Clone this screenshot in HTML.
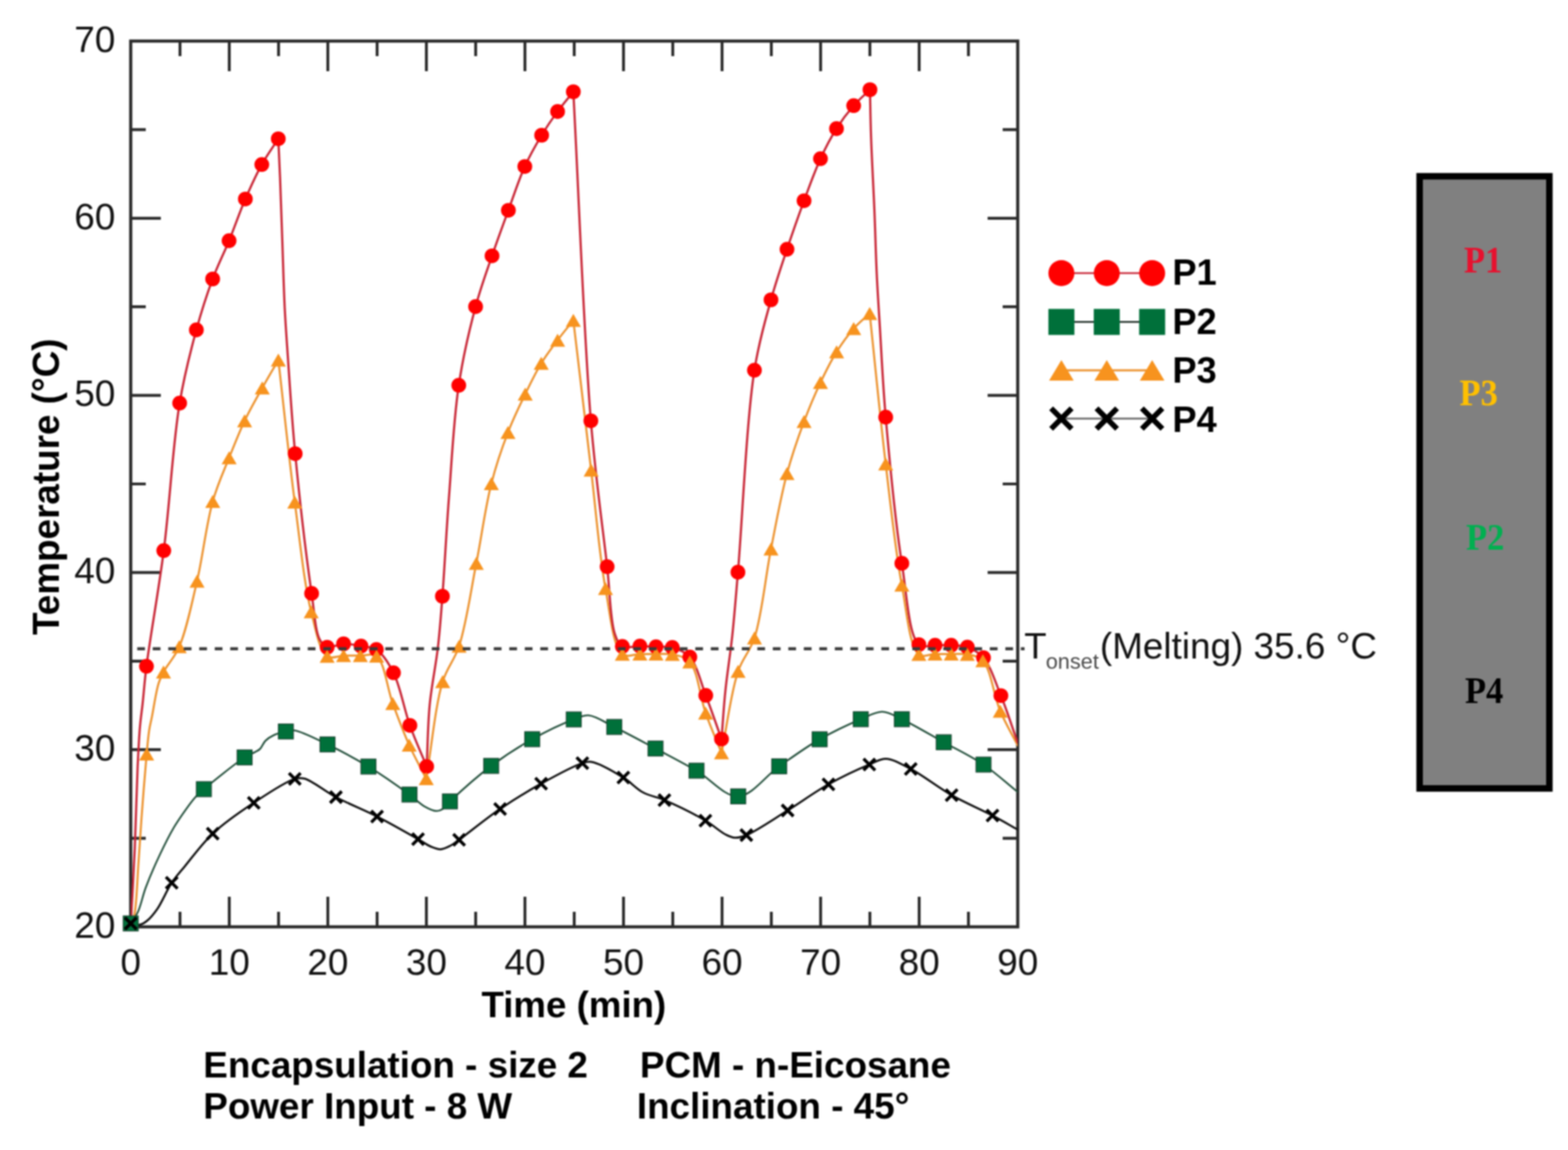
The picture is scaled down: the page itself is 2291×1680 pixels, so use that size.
<!DOCTYPE html>
<html><head><meta charset="utf-8"><title>Temperature vs Time</title>
<style>html,body{margin:0;padding:0;background:#fff;}body{width:2291px;height:1680px;overflow:hidden;}</style>
</head><body>
<div style="width:2291px;height:1680px;filter:blur(1px)">
<svg width="2291" height="1680" viewBox="0 0 2291 1680" style="display:block">
<rect width="2291" height="1680" fill="#ffffff"/>
<rect x="191.0" y="60.0" width="1296.0" height="1294.0" fill="none" stroke="#2a2a2a" stroke-width="4.6"/>
<path d="M263,1354.0 V1332 M263,60.0 V82 M335,1354.0 V1310 M335,60.0 V104 M407,1354.0 V1332 M407,60.0 V82 M479,1354.0 V1310 M479,60.0 V104 M551,1354.0 V1332 M551,60.0 V82 M623,1354.0 V1310 M623,60.0 V104 M695,1354.0 V1332 M695,60.0 V82 M767,1354.0 V1310 M767,60.0 V104 M839,1354.0 V1332 M839,60.0 V82 M911,1354.0 V1310 M911,60.0 V104 M983,1354.0 V1332 M983,60.0 V82 M1055,1354.0 V1310 M1055,60.0 V104 M1127,1354.0 V1332 M1127,60.0 V82 M1199,1354.0 V1310 M1199,60.0 V104 M1271,1354.0 V1332 M1271,60.0 V82 M1343,1354.0 V1310 M1343,60.0 V104 M1415,1354.0 V1332 M1415,60.0 V82 M191.0,1224.6 H213 M1487.0,1224.6 H1465 M191.0,1095.2 H235 M1487.0,1095.2 H1443 M191.0,965.8 H213 M1487.0,965.8 H1465 M191.0,836.4 H235 M1487.0,836.4 H1443 M191.0,707 H213 M1487.0,707 H1465 M191.0,577.6 H235 M1487.0,577.6 H1443 M191.0,448.2 H213 M1487.0,448.2 H1465 M191.0,318.8 H235 M1487.0,318.8 H1443 M191.0,189.4 H213 M1487.0,189.4 H1465" stroke="#2a2a2a" stroke-width="4.2" fill="none"/>
<defs><clipPath id="pc"><rect x="191.0" y="60.0" width="1296.0" height="1294.0"/></clipPath></defs>
<g clip-path="url(#pc)">
<path d="M191,1349 C195.3,1349.7 200,1351.7 204,1351 C207.9,1350.3 211.3,1348 215,1345 C220,1341 225,1334.8 230,1327.6 C236.9,1317.7 243.6,1300.6 250.9,1289.7 C257,1280.5 262.3,1275 269.9,1265.7 C280.9,1252.4 294.9,1232.7 310.8,1217.8 C328.1,1201.5 350.4,1186.3 370.8,1172.8 C390.4,1159.8 417.2,1141.7 430.7,1137.9 C436.8,1136.2 439.2,1136 445,1137.5 C456.3,1140.4 474.3,1155.8 490.8,1164.5 C509.3,1174.3 531,1182.7 550.9,1192.8 C571,1203.1 596.4,1217.6 610.8,1225.8 C619,1230.5 624,1234.5 630,1237 C634.8,1239 639.2,1240.9 643.8,1240.7 C648.5,1240.5 653.5,1237.8 658,1235.5 C662.5,1233.2 665,1230.9 670.8,1226.8 C683.5,1217.7 710.4,1195.6 730.7,1181.8 C750.4,1168.4 770.3,1156.1 790.6,1144.9 C810.4,1133.9 837.9,1119 850.9,1114.9 C856.6,1113.1 858.4,1112.1 863.9,1112.9 C874.9,1114.6 897.4,1127.6 910.8,1135.9 C922,1142.8 929.5,1152.3 939.8,1157.8 C949.6,1163.1 959,1163.8 970.8,1168.8 C987.7,1176 1014.5,1189.2 1030.7,1198.8 C1042.5,1205.8 1051.8,1214.8 1060,1219 C1065.2,1221.6 1068.8,1223.5 1073.6,1223.8 C1078.9,1224.1 1083.4,1222.8 1090.5,1220 C1104.7,1214.3 1130.8,1196.3 1150.8,1184 C1170.8,1171.6 1190.3,1157.1 1210.5,1145.8 C1230.1,1134.8 1254.6,1123.4 1270.2,1116.9 C1279.9,1112.9 1285.6,1108.3 1294.4,1108.5 C1305.3,1108.8 1317.4,1116.5 1330.7,1123.4 C1348.5,1132.7 1370.2,1150.1 1390.4,1161.6 C1410,1172.7 1432.7,1182.2 1450.1,1191.4 C1464,1198.7 1474.7,1205.1 1487,1212" fill="none" stroke="#111111" stroke-width="3.0" stroke-linejoin="round" stroke-linecap="round"/>
<path d="M191,1349 C194.6,1343.3 198.5,1338.8 201.7,1331.8 C206,1322.4 208.2,1309.5 212.8,1297 C218.4,1282 226.4,1263.7 233.7,1248.3 C240.4,1234.1 247.7,1219.6 254.6,1207.9 C260.2,1198.4 265.9,1190.5 271.3,1182.9 C276,1176.3 280.5,1170 285.2,1164.8 C289.3,1160.2 291.9,1158 297.9,1152.9 C310.3,1142.3 344,1115.1 357.4,1106.5 C363.7,1102.5 367.9,1101.3 372,1099 C375.1,1097.2 377.6,1096.4 380,1094 C383,1091.1 384.7,1085.3 388,1082 C391.3,1078.7 395.4,1076.2 400,1074 C405.2,1071.6 412.3,1069.8 417.7,1068.6 C422.1,1067.6 424.7,1066.3 430,1067 C441,1068.5 461.7,1079.4 478.5,1087.5 C497.6,1096.7 518.7,1107.9 538.3,1119.9 C558.6,1132.3 583.5,1149.9 598.3,1160.8 C607.4,1167.5 612.6,1173.7 619.8,1177.8 C625.8,1181.2 632.8,1184.7 637.8,1184.8 C641.3,1184.9 643.9,1183.6 646.8,1181.8 C650.5,1179.5 652.3,1175.7 657.4,1170.8 C669.1,1159.7 697.1,1134.4 717.7,1118.9 C737.2,1104.2 757.2,1091.3 777.6,1079.9 C797.4,1068.8 823,1056.7 838.3,1051 C847.1,1047.7 851.8,1044.4 859.9,1045 C870.8,1045.8 883.6,1055.2 897.5,1062 C915.3,1070.7 937.8,1082.9 957.8,1093.5 C977.8,1104.2 997.8,1114.4 1017.7,1125.9 C1038.1,1137.7 1058.6,1164.2 1078.6,1163.4 C1098.9,1162.6 1118.4,1133.5 1138.5,1119.5 C1158.1,1105.8 1177.4,1091.6 1197.6,1080 C1217.2,1068.8 1240.7,1057.8 1257.7,1050.7 C1269.7,1045.7 1278.8,1039.7 1289,1039.8 C1298.8,1039.9 1306.6,1045.6 1317.7,1050.7 C1334.5,1058.5 1358.8,1073.1 1378.9,1084.3 C1398.5,1095.2 1418.8,1104.7 1437,1117 C1454.8,1129 1470.3,1143.7 1487,1157" fill="none" stroke="#24503c" stroke-width="2.6" stroke-linejoin="round" stroke-linecap="round"/>
<path d="M191,1349 C192.7,1345.3 194.6,1343.5 196,1338 C199.6,1324.1 200.5,1285.6 202.3,1261 C204,1238.4 204.9,1219.7 206.7,1196 C208.8,1167.4 212.1,1125.2 214.3,1101.4 C215.6,1086.9 216.5,1076.4 218,1066.5 C219.2,1059 220.4,1055 222,1047 C224.5,1034.5 227.9,1010.6 231.6,998.7 C233.9,991.4 235.5,988.3 238.9,981.7 C244.2,971.6 255,960.6 261.9,944.8 C272.3,920.9 280,882.6 287.9,848.9 C296.5,812.1 301.5,765.3 310.8,732.6 C317.8,707.8 326.7,689 334.8,668.7 C342.3,649.9 349.2,632.1 357.4,614.8 C365.3,598.1 374.7,582.1 383.2,566.8 C391.1,552.6 398.9,539.5 406.7,525.9 C414.7,595.1 422.1,668.9 430.7,733.6 C438.3,790.5 444.3,852.6 454.7,893.8 C461.5,920.7 466.6,951.1 478,958.8 C484.7,963.3 494,958 502,957.8 C510.1,957.6 518.4,957.7 526.5,957.8 C534.5,957.9 543.5,953.6 550.2,958.5 C561.9,967.1 565.7,1005.6 573.9,1027.8 C581.6,1048.8 589.4,1069.5 597.9,1088.5 C605.7,1105.9 614.5,1121.2 622.8,1137.6 C630.8,1090.3 635.9,1030.9 646.8,995.8 C653.7,973.7 663.7,965.3 670.8,943.9 C681.2,912.4 688,862.9 695.9,822.9 C703.7,783.8 709.1,740.9 717.9,706.6 C725,678.6 733.3,654.6 742.2,631.7 C750,611.5 758.9,593.3 767.4,575.8 C775.1,559.9 782.5,544.5 790.8,530.8 C798.3,518.4 806.7,507.7 814.7,496.9 C822.3,486.7 830,477.6 837.7,467.9 C846.4,540.8 855.5,618 863.7,686.7 C871,747.8 875.5,810.8 884.7,859.8 C891.6,896.7 895.4,945 909.3,955.7 C916.4,961.2 926.6,955.5 935,955.5 C943,955.5 950.6,955.4 958.5,955.5 C966.4,955.6 974.4,954.3 982.3,956 C990.9,957.9 1000.8,959.1 1007.9,967 C1019.7,980.2 1022.8,1018.5 1031,1041.7 C1038.3,1062.4 1046.5,1080.4 1054.2,1099.7 C1062.3,1060.1 1068,1011.3 1078.4,980.8 C1085.4,960.4 1095.5,952.7 1102.4,931.9 C1113.1,899.5 1118.3,843.4 1126.5,801.9 C1134.1,763.6 1141,724.8 1149.9,691.7 C1157.4,663.8 1166.1,639 1174.8,615.7 C1182.5,595.2 1190.4,576.5 1198.8,558.8 C1206.4,542.8 1213.9,527.5 1222.4,513.9 C1230.2,501.5 1238.7,489.7 1247.3,479.9 C1254.8,471.4 1262.9,465.2 1270.7,457.9 C1278.5,531.2 1285.8,608.4 1294.1,677.7 C1301.6,740 1308.1,804.2 1317.7,854.8 C1325,893.4 1328.7,945.4 1342.6,956 C1349.2,961.1 1358.3,955.6 1366.2,955.5 C1374.1,955.4 1381.9,955.4 1389.8,955.5 C1397.7,955.6 1405.8,954.4 1413.4,956 C1421.2,957.6 1429.5,958.4 1436.1,965.3 C1447.8,977.7 1452.2,1017 1461.5,1038.9 C1469.4,1057.5 1478.5,1072.3 1487,1089" fill="none" stroke="#ec922e" stroke-width="3.0" stroke-linejoin="round" stroke-linecap="round"/>
<path d="M191,1349 C191.9,1334.3 192.7,1321.1 193.6,1305 C194.7,1285.4 195.8,1265 196.9,1240 C198.4,1206.1 199.6,1152.9 201.1,1120 C202.2,1097.1 203,1078.4 204.5,1061.6 C205.6,1048.8 207,1040.4 208.4,1027.8 C210.1,1011.8 211.1,996.4 214,973.3 C219.2,932.4 231.6,864.1 239.3,804.3 C248,736.9 252.6,647.9 262.5,588.8 C269.5,546.7 278.1,514.1 286.9,481.9 C294.3,454.7 302.2,430.3 310.7,407.5 C318.2,387.3 326.9,370.7 334.7,351.6 C342.8,331.8 350.2,309.9 358.5,290.7 C366.2,273 374,255.6 382.5,240.3 C390.1,226.6 398.6,215.2 406.6,202.7 C407.5,221.8 408.3,238.8 409.2,260 C410.3,286.6 411.3,319.2 412.4,350 C413.6,382.5 414.5,419.6 416,450 C417.3,475.4 418.6,492.6 420.5,520 C423.2,559.2 426.3,610.9 431.3,662.7 C437.3,724.7 448.1,817.4 455.3,866.9 C459.5,895.4 460.6,921.4 467,934 C470.1,940.1 473.1,944 478,945.5 C484.1,947.4 493.9,940.8 502,940.5 C510.3,940.2 519.3,942.4 527.5,943.9 C535.2,945.3 543,944.4 549.9,948.9 C559.3,955 567.6,968.5 574.9,982.8 C584.9,1002.6 590.3,1035.8 598.9,1059.7 C606.6,1081.1 615.2,1099.7 623.4,1119.7 C624.9,1089.7 625,1059.2 627.8,1029.8 C630.5,1001.3 636.7,973.1 639.8,945.9 C642.8,920.3 644.2,900 646.4,871 C649.5,830.9 652.1,777 655.9,727.6 C660,674.6 662.8,612.6 670.3,562.8 C676.6,520.8 685.8,481.8 694.9,447.9 C702.3,420.3 710.7,397.7 718.9,373.7 C726.7,350.9 734.7,329.1 742.8,307.2 C750.7,285.6 758,262.5 766.8,243.2 C774.4,226.4 783,211.5 791.4,197.5 C799,185 806.7,173.8 814.7,162.9 C822.2,152.7 830,143.6 837.7,134 C846.2,294.2 852.8,486.7 863.3,614.7 C870.3,700.1 880.7,770.5 887.1,827.8 C891.4,866.5 891.5,905.4 898,925 C901.1,934.4 903.5,941 909.3,944.3 C915.5,947.8 926.6,943.8 935,943.9 C943,944 950.6,944.6 958.5,944.9 C966.4,945.2 974.5,943.7 982.3,945.9 C991,948.3 1000.7,951.8 1007.9,959.8 C1018.4,971.4 1023.7,996.4 1031.2,1015.8 C1039.2,1036.3 1046.5,1058.4 1054.2,1079.7 C1056.1,1056.4 1057.3,1033.9 1059.8,1009.8 C1062.4,984 1066.8,957.6 1069.8,929.9 C1073,899.9 1074.8,876 1078.2,835.9 C1084.3,764.9 1090.8,613.5 1102.3,540.8 C1109.1,497.4 1117.9,469.3 1126.5,438 C1133.9,411.2 1141.8,388.4 1149.9,364.1 C1157.9,340.2 1166.4,315.9 1174.8,293.2 C1182.7,271.9 1190.3,250.3 1198.8,231.8 C1206.2,215.7 1213.7,201.3 1222.2,187.9 C1230,175.6 1238.7,164.2 1247.3,154.3 C1255,145.5 1263.2,138.8 1271.1,131 C1271.6,154 1271.8,174.3 1272.7,200 C1273.8,232.4 1276.3,275.2 1277.7,310 C1279,341.5 1279.6,370.9 1281,400 C1282.3,427.5 1283.9,450.1 1285.7,480 C1288,518 1289.9,560.9 1294.1,609.4 C1299.6,671.8 1308,762.3 1317.7,822.9 C1325,868.5 1327.7,929.1 1342.6,941.7 C1349.2,947.3 1358.3,942.5 1366.2,942.6 C1374.1,942.7 1381.9,942.1 1389.8,942.6 C1397.7,943.1 1405.8,942.7 1413.4,945.4 C1421.6,948.4 1430,952.7 1437,960.8 C1447.3,972.8 1454.4,996.6 1462.4,1016.2 C1471.2,1037.7 1478.8,1062.1 1487,1085" fill="none" stroke="#c82535" stroke-width="3.2" stroke-linejoin="round" stroke-linecap="round"/>
</g>
<g>
<circle cx="191" cy="1349" r="10.8" fill="#ff0000"/>
<circle cx="214" cy="973.3" r="10.8" fill="#ff0000"/>
<circle cx="239.3" cy="804.3" r="10.8" fill="#ff0000"/>
<circle cx="262.5" cy="588.8" r="10.8" fill="#ff0000"/>
<circle cx="286.9" cy="481.9" r="10.8" fill="#ff0000"/>
<circle cx="310.7" cy="407.5" r="10.8" fill="#ff0000"/>
<circle cx="334.7" cy="351.6" r="10.8" fill="#ff0000"/>
<circle cx="358.5" cy="290.7" r="10.8" fill="#ff0000"/>
<circle cx="382.5" cy="240.3" r="10.8" fill="#ff0000"/>
<circle cx="406.6" cy="202.7" r="10.8" fill="#ff0000"/>
<circle cx="431.3" cy="662.7" r="10.8" fill="#ff0000"/>
<circle cx="455.3" cy="866.9" r="10.8" fill="#ff0000"/>
<circle cx="478" cy="945.5" r="10.8" fill="#ff0000"/>
<circle cx="502" cy="940.5" r="10.8" fill="#ff0000"/>
<circle cx="527.5" cy="943.9" r="10.8" fill="#ff0000"/>
<circle cx="549.9" cy="948.9" r="10.8" fill="#ff0000"/>
<circle cx="574.9" cy="982.8" r="10.8" fill="#ff0000"/>
<circle cx="598.9" cy="1059.7" r="10.8" fill="#ff0000"/>
<circle cx="623.4" cy="1119.7" r="10.8" fill="#ff0000"/>
<circle cx="646.4" cy="871" r="10.8" fill="#ff0000"/>
<circle cx="670.3" cy="562.8" r="10.8" fill="#ff0000"/>
<circle cx="694.9" cy="447.9" r="10.8" fill="#ff0000"/>
<circle cx="718.9" cy="373.7" r="10.8" fill="#ff0000"/>
<circle cx="742.8" cy="307.2" r="10.8" fill="#ff0000"/>
<circle cx="766.8" cy="243.2" r="10.8" fill="#ff0000"/>
<circle cx="791.4" cy="197.5" r="10.8" fill="#ff0000"/>
<circle cx="814.7" cy="162.9" r="10.8" fill="#ff0000"/>
<circle cx="837.7" cy="134" r="10.8" fill="#ff0000"/>
<circle cx="863.3" cy="614.7" r="10.8" fill="#ff0000"/>
<circle cx="887.1" cy="827.8" r="10.8" fill="#ff0000"/>
<circle cx="909.3" cy="944.3" r="10.8" fill="#ff0000"/>
<circle cx="935" cy="943.9" r="10.8" fill="#ff0000"/>
<circle cx="958.5" cy="944.9" r="10.8" fill="#ff0000"/>
<circle cx="982.3" cy="945.9" r="10.8" fill="#ff0000"/>
<circle cx="1007.9" cy="959.8" r="10.8" fill="#ff0000"/>
<circle cx="1031.2" cy="1015.8" r="10.8" fill="#ff0000"/>
<circle cx="1054.2" cy="1079.7" r="10.8" fill="#ff0000"/>
<circle cx="1078.2" cy="835.9" r="10.8" fill="#ff0000"/>
<circle cx="1102.3" cy="540.8" r="10.8" fill="#ff0000"/>
<circle cx="1126.5" cy="438" r="10.8" fill="#ff0000"/>
<circle cx="1149.9" cy="364.1" r="10.8" fill="#ff0000"/>
<circle cx="1174.8" cy="293.2" r="10.8" fill="#ff0000"/>
<circle cx="1198.8" cy="231.8" r="10.8" fill="#ff0000"/>
<circle cx="1222.2" cy="187.9" r="10.8" fill="#ff0000"/>
<circle cx="1247.3" cy="154.3" r="10.8" fill="#ff0000"/>
<circle cx="1271.1" cy="131" r="10.8" fill="#ff0000"/>
<circle cx="1294.1" cy="609.4" r="10.8" fill="#ff0000"/>
<circle cx="1317.7" cy="822.9" r="10.8" fill="#ff0000"/>
<circle cx="1342.6" cy="941.7" r="10.8" fill="#ff0000"/>
<circle cx="1366.2" cy="942.6" r="10.8" fill="#ff0000"/>
<circle cx="1389.8" cy="942.6" r="10.8" fill="#ff0000"/>
<circle cx="1413.4" cy="945.4" r="10.8" fill="#ff0000"/>
<circle cx="1437" cy="960.8" r="10.8" fill="#ff0000"/>
<circle cx="1462.4" cy="1016.2" r="10.8" fill="#ff0000"/>
<path d="M191,1339.5 L202,1358.5 L180,1358.5 Z" fill="#f7931e"/>
<path d="M214.3,1091.9 L225.3,1110.9 L203.3,1110.9 Z" fill="#f7931e"/>
<path d="M238.9,972.2 L249.9,991.2 L227.9,991.2 Z" fill="#f7931e"/>
<path d="M261.9,935.3 L272.9,954.3 L250.9,954.3 Z" fill="#f7931e"/>
<path d="M287.9,839.4 L298.9,858.4 L276.9,858.4 Z" fill="#f7931e"/>
<path d="M310.8,723.1 L321.8,742.1 L299.8,742.1 Z" fill="#f7931e"/>
<path d="M334.8,659.2 L345.8,678.2 L323.8,678.2 Z" fill="#f7931e"/>
<path d="M357.4,605.3 L368.4,624.3 L346.4,624.3 Z" fill="#f7931e"/>
<path d="M383.2,557.3 L394.2,576.3 L372.2,576.3 Z" fill="#f7931e"/>
<path d="M406.7,516.4 L417.7,535.4 L395.7,535.4 Z" fill="#f7931e"/>
<path d="M430.7,724.1 L441.7,743.1 L419.7,743.1 Z" fill="#f7931e"/>
<path d="M454.7,884.3 L465.7,903.3 L443.7,903.3 Z" fill="#f7931e"/>
<path d="M478,949.3 L489,968.3 L467,968.3 Z" fill="#f7931e"/>
<path d="M502,948.3 L513,967.3 L491,967.3 Z" fill="#f7931e"/>
<path d="M526.5,948.3 L537.5,967.3 L515.5,967.3 Z" fill="#f7931e"/>
<path d="M550.2,949 L561.2,968 L539.2,968 Z" fill="#f7931e"/>
<path d="M573.9,1018.3 L584.9,1037.3 L562.9,1037.3 Z" fill="#f7931e"/>
<path d="M597.9,1079 L608.9,1098 L586.9,1098 Z" fill="#f7931e"/>
<path d="M622.8,1128.1 L633.8,1147.1 L611.8,1147.1 Z" fill="#f7931e"/>
<path d="M646.8,986.3 L657.8,1005.3 L635.8,1005.3 Z" fill="#f7931e"/>
<path d="M670.8,934.4 L681.8,953.4 L659.8,953.4 Z" fill="#f7931e"/>
<path d="M695.9,813.4 L706.9,832.4 L684.9,832.4 Z" fill="#f7931e"/>
<path d="M717.9,697.1 L728.9,716.1 L706.9,716.1 Z" fill="#f7931e"/>
<path d="M742.2,622.2 L753.2,641.2 L731.2,641.2 Z" fill="#f7931e"/>
<path d="M767.4,566.3 L778.4,585.3 L756.4,585.3 Z" fill="#f7931e"/>
<path d="M790.8,521.3 L801.8,540.3 L779.8,540.3 Z" fill="#f7931e"/>
<path d="M814.7,487.4 L825.7,506.4 L803.7,506.4 Z" fill="#f7931e"/>
<path d="M837.7,458.4 L848.7,477.4 L826.7,477.4 Z" fill="#f7931e"/>
<path d="M863.7,677.2 L874.7,696.2 L852.7,696.2 Z" fill="#f7931e"/>
<path d="M884.7,850.3 L895.7,869.3 L873.7,869.3 Z" fill="#f7931e"/>
<path d="M909.3,946.2 L920.3,965.2 L898.3,965.2 Z" fill="#f7931e"/>
<path d="M935,946 L946,965 L924,965 Z" fill="#f7931e"/>
<path d="M958.5,946 L969.5,965 L947.5,965 Z" fill="#f7931e"/>
<path d="M982.3,946.5 L993.3,965.5 L971.3,965.5 Z" fill="#f7931e"/>
<path d="M1007.9,957.5 L1018.9,976.5 L996.9,976.5 Z" fill="#f7931e"/>
<path d="M1031,1032.2 L1042,1051.2 L1020,1051.2 Z" fill="#f7931e"/>
<path d="M1054.2,1090.2 L1065.2,1109.2 L1043.2,1109.2 Z" fill="#f7931e"/>
<path d="M1078.4,971.3 L1089.4,990.3 L1067.4,990.3 Z" fill="#f7931e"/>
<path d="M1102.4,922.4 L1113.4,941.4 L1091.4,941.4 Z" fill="#f7931e"/>
<path d="M1126.5,792.4 L1137.5,811.4 L1115.5,811.4 Z" fill="#f7931e"/>
<path d="M1149.9,682.2 L1160.9,701.2 L1138.9,701.2 Z" fill="#f7931e"/>
<path d="M1174.8,606.2 L1185.8,625.2 L1163.8,625.2 Z" fill="#f7931e"/>
<path d="M1198.8,549.3 L1209.8,568.3 L1187.8,568.3 Z" fill="#f7931e"/>
<path d="M1222.4,504.4 L1233.4,523.4 L1211.4,523.4 Z" fill="#f7931e"/>
<path d="M1247.3,470.4 L1258.3,489.4 L1236.3,489.4 Z" fill="#f7931e"/>
<path d="M1270.7,448.4 L1281.7,467.4 L1259.7,467.4 Z" fill="#f7931e"/>
<path d="M1294.1,668.2 L1305.1,687.2 L1283.1,687.2 Z" fill="#f7931e"/>
<path d="M1317.7,845.3 L1328.7,864.3 L1306.7,864.3 Z" fill="#f7931e"/>
<path d="M1342.6,946.5 L1353.6,965.5 L1331.6,965.5 Z" fill="#f7931e"/>
<path d="M1366.2,946 L1377.2,965 L1355.2,965 Z" fill="#f7931e"/>
<path d="M1389.8,946 L1400.8,965 L1378.8,965 Z" fill="#f7931e"/>
<path d="M1413.4,946.5 L1424.4,965.5 L1402.4,965.5 Z" fill="#f7931e"/>
<path d="M1436.1,955.8 L1447.1,974.8 L1425.1,974.8 Z" fill="#f7931e"/>
<path d="M1461.5,1029.4 L1472.5,1048.4 L1450.5,1048.4 Z" fill="#f7931e"/>
<rect x="180" y="1338" width="22" height="22" fill="#00703a" stroke="#1d4030" stroke-width="1.2"/>
<rect x="286.9" y="1141.9" width="22" height="22" fill="#00703a" stroke="#1d4030" stroke-width="1.2"/>
<rect x="346.4" y="1095.5" width="22" height="22" fill="#00703a" stroke="#1d4030" stroke-width="1.2"/>
<rect x="406.7" y="1057.6" width="22" height="22" fill="#00703a" stroke="#1d4030" stroke-width="1.2"/>
<rect x="467.5" y="1076.5" width="22" height="22" fill="#00703a" stroke="#1d4030" stroke-width="1.2"/>
<rect x="527.3" y="1108.9" width="22" height="22" fill="#00703a" stroke="#1d4030" stroke-width="1.2"/>
<rect x="587.3" y="1149.8" width="22" height="22" fill="#00703a" stroke="#1d4030" stroke-width="1.2"/>
<rect x="646.4" y="1159.8" width="22" height="22" fill="#00703a" stroke="#1d4030" stroke-width="1.2"/>
<rect x="706.7" y="1107.9" width="22" height="22" fill="#00703a" stroke="#1d4030" stroke-width="1.2"/>
<rect x="766.6" y="1068.9" width="22" height="22" fill="#00703a" stroke="#1d4030" stroke-width="1.2"/>
<rect x="827.3" y="1040" width="22" height="22" fill="#00703a" stroke="#1d4030" stroke-width="1.2"/>
<rect x="886.5" y="1051" width="22" height="22" fill="#00703a" stroke="#1d4030" stroke-width="1.2"/>
<rect x="946.8" y="1082.5" width="22" height="22" fill="#00703a" stroke="#1d4030" stroke-width="1.2"/>
<rect x="1006.7" y="1114.9" width="22" height="22" fill="#00703a" stroke="#1d4030" stroke-width="1.2"/>
<rect x="1067.6" y="1152.4" width="22" height="22" fill="#00703a" stroke="#1d4030" stroke-width="1.2"/>
<rect x="1127.5" y="1108.5" width="22" height="22" fill="#00703a" stroke="#1d4030" stroke-width="1.2"/>
<rect x="1186.6" y="1069" width="22" height="22" fill="#00703a" stroke="#1d4030" stroke-width="1.2"/>
<rect x="1246.7" y="1039.7" width="22" height="22" fill="#00703a" stroke="#1d4030" stroke-width="1.2"/>
<rect x="1306.7" y="1039.7" width="22" height="22" fill="#00703a" stroke="#1d4030" stroke-width="1.2"/>
<rect x="1367.9" y="1073.3" width="22" height="22" fill="#00703a" stroke="#1d4030" stroke-width="1.2"/>
<rect x="1426" y="1106" width="22" height="22" fill="#00703a" stroke="#1d4030" stroke-width="1.2"/>
<path d="M182.5,1340.5 L199.5,1357.5 M199.5,1340.5 L182.5,1357.5" stroke="#000000" stroke-width="4.6" stroke-linecap="butt" fill="none"/>
<path d="M242.4,1281.2 L259.4,1298.2 M259.4,1281.2 L242.4,1298.2" stroke="#000000" stroke-width="4.6" stroke-linecap="butt" fill="none"/>
<path d="M302.3,1209.3 L319.3,1226.3 M319.3,1209.3 L302.3,1226.3" stroke="#000000" stroke-width="4.6" stroke-linecap="butt" fill="none"/>
<path d="M362.3,1164.3 L379.3,1181.3 M379.3,1164.3 L362.3,1181.3" stroke="#000000" stroke-width="4.6" stroke-linecap="butt" fill="none"/>
<path d="M422.2,1129.4 L439.2,1146.4 M439.2,1129.4 L422.2,1146.4" stroke="#000000" stroke-width="4.6" stroke-linecap="butt" fill="none"/>
<path d="M482.3,1156 L499.3,1173 M499.3,1156 L482.3,1173" stroke="#000000" stroke-width="4.6" stroke-linecap="butt" fill="none"/>
<path d="M542.4,1184.3 L559.4,1201.3 M559.4,1184.3 L542.4,1201.3" stroke="#000000" stroke-width="4.6" stroke-linecap="butt" fill="none"/>
<path d="M602.3,1217.3 L619.3,1234.3 M619.3,1217.3 L602.3,1234.3" stroke="#000000" stroke-width="4.6" stroke-linecap="butt" fill="none"/>
<path d="M662.3,1218.3 L679.3,1235.3 M679.3,1218.3 L662.3,1235.3" stroke="#000000" stroke-width="4.6" stroke-linecap="butt" fill="none"/>
<path d="M722.2,1173.3 L739.2,1190.3 M739.2,1173.3 L722.2,1190.3" stroke="#000000" stroke-width="4.6" stroke-linecap="butt" fill="none"/>
<path d="M782.1,1136.4 L799.1,1153.4 M799.1,1136.4 L782.1,1153.4" stroke="#000000" stroke-width="4.6" stroke-linecap="butt" fill="none"/>
<path d="M842.4,1106.4 L859.4,1123.4 M859.4,1106.4 L842.4,1123.4" stroke="#000000" stroke-width="4.6" stroke-linecap="butt" fill="none"/>
<path d="M902.3,1127.4 L919.3,1144.4 M919.3,1127.4 L902.3,1144.4" stroke="#000000" stroke-width="4.6" stroke-linecap="butt" fill="none"/>
<path d="M962.3,1160.3 L979.3,1177.3 M979.3,1160.3 L962.3,1177.3" stroke="#000000" stroke-width="4.6" stroke-linecap="butt" fill="none"/>
<path d="M1022.2,1190.3 L1039.2,1207.3 M1039.2,1190.3 L1022.2,1207.3" stroke="#000000" stroke-width="4.6" stroke-linecap="butt" fill="none"/>
<path d="M1082,1211.5 L1099,1228.5 M1099,1211.5 L1082,1228.5" stroke="#000000" stroke-width="4.6" stroke-linecap="butt" fill="none"/>
<path d="M1142.3,1175.5 L1159.3,1192.5 M1159.3,1175.5 L1142.3,1192.5" stroke="#000000" stroke-width="4.6" stroke-linecap="butt" fill="none"/>
<path d="M1202,1137.3 L1219,1154.3 M1219,1137.3 L1202,1154.3" stroke="#000000" stroke-width="4.6" stroke-linecap="butt" fill="none"/>
<path d="M1261.7,1108.4 L1278.7,1125.4 M1278.7,1108.4 L1261.7,1125.4" stroke="#000000" stroke-width="4.6" stroke-linecap="butt" fill="none"/>
<path d="M1322.2,1114.9 L1339.2,1131.9 M1339.2,1114.9 L1322.2,1131.9" stroke="#000000" stroke-width="4.6" stroke-linecap="butt" fill="none"/>
<path d="M1381.9,1153.1 L1398.9,1170.1 M1398.9,1153.1 L1381.9,1170.1" stroke="#000000" stroke-width="4.6" stroke-linecap="butt" fill="none"/>
<path d="M1441.6,1182.9 L1458.6,1199.9 M1458.6,1182.9 L1441.6,1199.9" stroke="#000000" stroke-width="4.6" stroke-linecap="butt" fill="none"/>
</g>
<line x1="200.5" y1="947.8" x2="1497" y2="947.8" stroke="#3a3a3a" stroke-width="4.6" stroke-dasharray="11.3 11.35"/>
<g font-family="'Liberation Sans', Arial, Helvetica, sans-serif" font-size="54" fill="#111">
<text x="168.5" y="1369.8" text-anchor="end">20</text>
<text x="168.5" y="1111" text-anchor="end">30</text>
<text x="168.5" y="852.2" text-anchor="end">40</text>
<text x="168.5" y="593.4" text-anchor="end">50</text>
<text x="168.5" y="334.6" text-anchor="end">60</text>
<text x="168.5" y="75.8" text-anchor="end">70</text>
<text x="191" y="1424" text-anchor="middle">0</text>
<text x="335" y="1424" text-anchor="middle">10</text>
<text x="479" y="1424" text-anchor="middle">20</text>
<text x="623" y="1424" text-anchor="middle">30</text>
<text x="767" y="1424" text-anchor="middle">40</text>
<text x="911" y="1424" text-anchor="middle">50</text>
<text x="1055" y="1424" text-anchor="middle">60</text>
<text x="1199" y="1424" text-anchor="middle">70</text>
<text x="1343" y="1424" text-anchor="middle">80</text>
<text x="1487" y="1424" text-anchor="middle">90</text>
</g>
<text x="838.4" y="1486" text-anchor="middle" font-family="'Liberation Sans', Arial, Helvetica, sans-serif" font-size="53" font-weight="bold" fill="#000" textLength="270" lengthAdjust="spacingAndGlyphs">Time (min)</text>
<text transform="translate(85.5,711) rotate(-90)" x="0" y="0" text-anchor="middle" font-family="'Liberation Sans', Arial, Helvetica, sans-serif" font-size="55" font-weight="bold" fill="#000" textLength="433" lengthAdjust="spacingAndGlyphs">Temperature (°C)</text>
<text x="1496.5" y="961.5" font-family="'Liberation Sans', Arial, Helvetica, sans-serif" font-size="53.5" fill="#111">T</text>
<text x="1528" y="976.5" font-family="'Liberation Sans', Arial, Helvetica, sans-serif" font-size="31.7" fill="#4a4a4a">onset</text>
<text x="1607" y="961.5" font-family="'Liberation Sans', Arial, Helvetica, sans-serif" font-size="53.9" fill="#111">(Melting) 35.6 °C</text>
<line x1="1550.8" y1="399.0" x2="1683.4" y2="399.0" stroke="#c82535" stroke-width="2.5"/>
<line x1="1550.8" y1="470.3" x2="1683.4" y2="470.3" stroke="#1a2a22" stroke-width="2.5"/>
<line x1="1550.8" y1="541.0" x2="1683.4" y2="541.0" stroke="#ec922e" stroke-width="3"/>
<line x1="1550.8" y1="611.5" x2="1683.4" y2="611.5" stroke="#777" stroke-width="3"/>
<circle cx="1550.8" cy="399" r="19" fill="#ff0000"/>
<rect x="1531.8" y="451.3" width="38" height="38" fill="#00703a"/>
<path d="M1550.8,526 L1568.8,556 L1532.8,556 Z" fill="#f7931e"/>
<path d="M1535.8,596.5 L1565.8,626.5 M1565.8,596.5 L1535.8,626.5" stroke="#000" stroke-width="8" stroke-linecap="butt" fill="none"/>
<circle cx="1617.1" cy="399" r="19" fill="#ff0000"/>
<rect x="1598.1" y="451.3" width="38" height="38" fill="#00703a"/>
<path d="M1617.1,526 L1635.1,556 L1599.1,556 Z" fill="#f7931e"/>
<path d="M1602.1,596.5 L1632.1,626.5 M1632.1,596.5 L1602.1,626.5" stroke="#000" stroke-width="8" stroke-linecap="butt" fill="none"/>
<circle cx="1683.4" cy="399" r="19" fill="#ff0000"/>
<rect x="1664.4" y="451.3" width="38" height="38" fill="#00703a"/>
<path d="M1683.4,526 L1701.4,556 L1665.4,556 Z" fill="#f7931e"/>
<path d="M1668.4,596.5 L1698.4,626.5 M1698.4,596.5 L1668.4,626.5" stroke="#000" stroke-width="8" stroke-linecap="butt" fill="none"/>
<text x="1713" y="416.3" font-family="'Liberation Sans', Arial, Helvetica, sans-serif" font-size="53" font-weight="bold" fill="#000">P1</text>
<text x="1713" y="488.0" font-family="'Liberation Sans', Arial, Helvetica, sans-serif" font-size="53" font-weight="bold" fill="#000">P2</text>
<text x="1713" y="558.8" font-family="'Liberation Sans', Arial, Helvetica, sans-serif" font-size="53" font-weight="bold" fill="#000">P3</text>
<text x="1713" y="630.6" font-family="'Liberation Sans', Arial, Helvetica, sans-serif" font-size="53" font-weight="bold" fill="#000">P4</text>
<g font-family="'Liberation Sans', Arial, Helvetica, sans-serif" font-size="53.8" font-weight="bold" fill="#000">
<text x="297" y="1574">Encapsulation - size 2</text>
<text x="297" y="1634">Power Input - 8 W</text>
<text x="935" y="1574">PCM - n-Eicosane</text>
<text x="930.5" y="1634">Inclination - 45°</text>
</g>
<rect x="2074.2" y="257.5" width="189.6" height="894.3" fill="#808080" stroke="#000" stroke-width="9.5"/>
<text x="2139" y="398" font-family="'Liberation Serif', 'Times New Roman', serif" font-size="55" font-weight="bold" fill="#e8102e" textLength="56" lengthAdjust="spacingAndGlyphs">P1</text>
<text x="2132.5" y="592" font-family="'Liberation Serif', 'Times New Roman', serif" font-size="55" font-weight="bold" fill="#ffc000" textLength="56" lengthAdjust="spacingAndGlyphs">P3</text>
<text x="2142" y="803" font-family="'Liberation Serif', 'Times New Roman', serif" font-size="55" font-weight="bold" fill="#00b050" textLength="56" lengthAdjust="spacingAndGlyphs">P2</text>
<text x="2140.5" y="1026.5" font-family="'Liberation Serif', 'Times New Roman', serif" font-size="55" font-weight="bold" fill="#000" textLength="56" lengthAdjust="spacingAndGlyphs">P4</text>
</svg>
</div>
</body></html>
